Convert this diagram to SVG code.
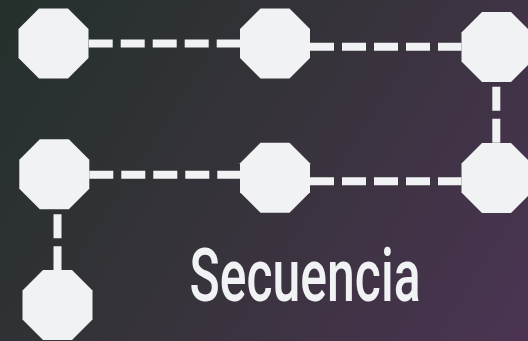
<svg xmlns="http://www.w3.org/2000/svg" xmlns:xlink="http://www.w3.org/1999/xlink" width="528" height="341" viewBox="0 0 528 341">
  <defs>
    <linearGradient id="bg" x1="0" y1="0" x2="528" y2="341" gradientUnits="userSpaceOnUse">
      <stop offset="0" stop-color="#24302c"/>
      <stop offset="0.5" stop-color="#37333b"/>
      <stop offset="1" stop-color="#4b3453"/>
    </linearGradient>
    <polygon id="oct" points="-14.5,-35 14.5,-35 35,-14.5 35,14.5 14.5,35 -14.5,35 -35,14.5 -35,-14.5"/>
  </defs>
  <style>
    .node { fill: #f1f2f4; }
    .link { stroke: #f1f2f4; stroke-width: 8; stroke-dasharray: 24 8; fill: none; }
    .label { fill: #f1f2f4; font-family: Roboto, "Liberation Sans", sans-serif; font-size: 74px; font-weight: 500; }
  </style>
  <rect width="528" height="341" fill="url(#bg)"/>
  <g id="connectors">
    <line class="link" x1="88.7" y1="43.5" x2="240" y2="43.5"/>
    <line class="link" x1="310" y1="46.7" x2="461.5" y2="46.7"/>
    <line class="link" x1="89.3" y1="174.7" x2="240" y2="174.7"/>
    <line class="link" x1="310" y1="181.3" x2="461.5" y2="181.3"/>
    <line class="link" x1="496.3" y1="86.7" x2="496.3" y2="143.3"/>
    <line class="link" x1="57.5" y1="214.3" x2="57.5" y2="270"/>
  </g>
  <g id="node1"><use xlink:href="#oct" class="node" x="53.5" y="43.5"/></g>
  <g id="node2"><use xlink:href="#oct" class="node" x="275" y="43.5"/></g>
  <g id="node3"><use xlink:href="#oct" class="node" x="496.5" y="47"/></g>
  <g id="node4"><use xlink:href="#oct" class="node" x="54.3" y="174.3"/></g>
  <g id="node5"><use xlink:href="#oct" class="node" x="275" y="177.7"/></g>
  <g id="node6"><use xlink:href="#oct" class="node" x="496.5" y="178"/></g>
  <g id="node7"><use xlink:href="#oct" class="node" x="57.5" y="305"/></g>
  <text class="label" text-anchor="middle" transform="translate(305,301) scale(0.675,1)">Secuencia</text>
</svg>
